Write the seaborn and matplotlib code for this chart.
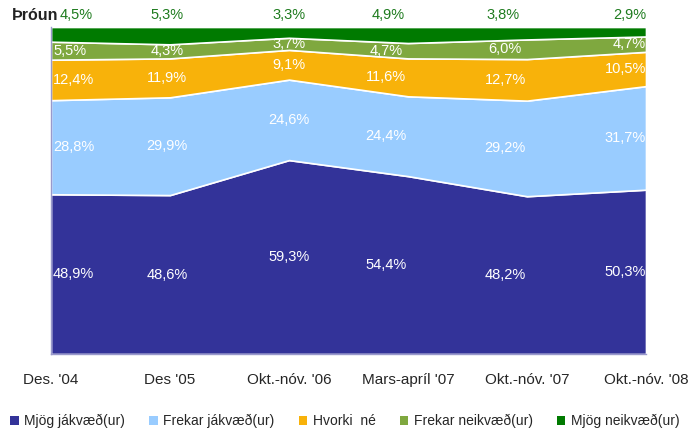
import matplotlib
matplotlib.use("Agg")
import matplotlib.pyplot as plt
from matplotlib.patches import Patch
from matplotlib.transforms import offset_copy
import seaborn as sns
import numpy as np

periods = ["Des. '04", "Des '05", "Okt.-nóv. '06", "Mars-apríl '07", "Okt.-nóv. '07", "Okt.-nóv. '08"]
series_names = ["Mjög jákvæð(ur)", "Frekar jákvæð(ur)", "Hvorki  né", "Frekar neikvæð(ur)", "Mjög neikvæð(ur)"]
mjog_jakv = [48.9, 48.6, 59.3, 54.4, 48.2, 50.3]
frekar_jakv = [28.8, 29.9, 24.6, 24.4, 29.2, 31.7]
hvorki = [12.4, 11.9, 9.1, 11.6, 12.7, 10.5]
frekar_neikv = [5.5, 4.3, 3.7, 4.7, 6.0, 4.7]
mjog_neikv = [4.5, 5.3, 3.3, 4.9, 3.8, 2.9]
colors = ["#333399", "#99ccff", "#f8b20a", "#7fa83f", "#007a00"]

sns.set_theme(style="white")
plt.rcParams["font.family"] = ["Liberation Sans", "DejaVu Sans"]

values = np.array([mjog_jakv, frekar_jakv, hvorki, frekar_neikv, mjog_neikv])
shares = values / values.sum(axis=0) * 100
x = np.arange(len(periods))

fig = plt.figure(figsize=(6.9, 4.3), dpi=100)
ax = fig.add_axes([51 / 690, 76 / 430, 595 / 690, 327 / 430])
ax.stackplot(x, shares, colors=sns.color_palette(colors), edgecolor="white", linewidth=1.2)
ax.set_xlim(0, len(periods) - 1)
ax.set_ylim(0, 100)
ax.set_yticks([])
ax.set_xticks(x)
ax.set_xticklabels(periods, fontsize=11)
ax.tick_params(axis="x", length=0, pad=14)
for side in ["top", "right"]:
    ax.spines[side].set_visible(False)
for side in ["left", "bottom"]:
    ax.spines[side].set_color("#9999cc")
    ax.spines[side].set_linewidth(1)

# labels in the original sit a little left of some data points (pixels)
label_shift = [2, -3, 0, -22, -22, 0]
top_shift = [9, -3, 0, -20, -24, 0]
cum = np.cumsum(shares, axis=0)
for i in range(len(series_names)):
    for j in range(len(periods)):
        lab = f"{values[i, j]:.1f}%".replace(".", ",")
        ha = "left" if j == 0 else ("right" if j == len(periods) - 1 else "center")
        if i == len(series_names) - 1:
            off = offset_copy(ax.transData, fig=fig, x=top_shift[j], units="dots")
            ax.text(j, 103.7, lab, ha=ha, va="center", fontsize=10.5,
                    color="#1e7b1e", clip_on=False, transform=off)
        else:
            off = offset_copy(ax.transData, fig=fig, x=label_shift[j], units="dots")
            ymid = cum[i, j] - shares[i, j] / 2
            ax.text(j, ymid, lab, ha=ha, va="center", fontsize=10.5, color="white", transform=off)

fig.text(12 / 690, 1 - 15 / 430, "Þróun", fontsize=11.5, fontweight="bold",
         ha="left", va="center", color="#222222")

handles = [Patch(facecolor=c, edgecolor="none") for c in colors]
fig.legend(handles, series_names, loc="lower center", bbox_to_anchor=(0.5, -0.025),
           ncol=5, frameon=False, fontsize=10, handlelength=0.6, handleheight=0.6,
           handletextpad=0.4, columnspacing=1.75)

fig.savefig("out.png", dpi=100)
